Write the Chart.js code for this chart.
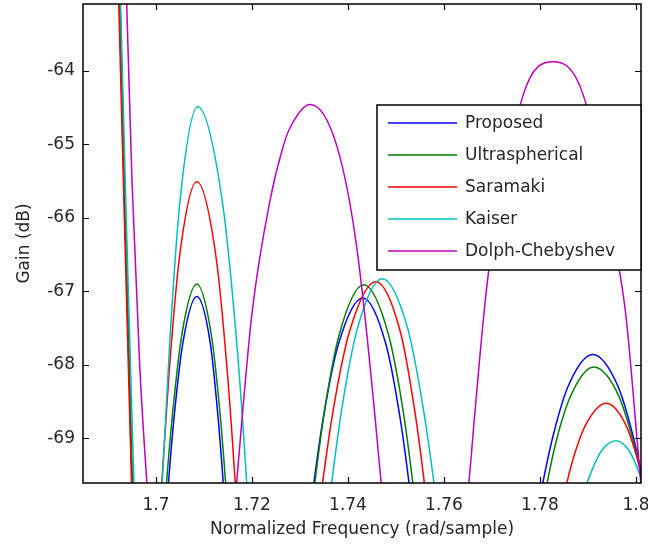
<!DOCTYPE html>
<html>
<head>
<meta charset="utf-8">
<script src="https://cdn.jsdelivr.net/npm/chart.js@4.4.1/dist/chart.umd.min.js"></script>
<style>
  html, body { margin: 0; padding: 0; background: #fff; }
  #wrap { width: 648px; height: 550px; position: relative; }
</style>
</head>
<body>
<div id="wrap"><canvas id="grafico"></canvas></div>
<script>
// --------------------------------------------------------------- dados
// Cada curva: pares [frequência, ganho dB].
// null separa os lóbulos; pontos abaixo de -69.6 / acima de -63.1 são cortados.
const proposed = [
  [1.6921, -62.0], [1.6936, -66.0], [1.6950, -69.6], [1.6954, -70.5], [1.698, null],
  [1.7017, -70.42], [1.7026, -69.6], [1.7038, -68.69], [1.7056, -67.70], [1.7085, -67.07], [1.7113, -67.70], [1.7129, -68.69], [1.7140, -69.6], [1.7148, -70.42], [1.72, null],
  [1.7314, -70.41], [1.7329, -69.6], [1.7349, -68.70], [1.7380, -67.72], [1.7431, -67.09], [1.7479, -67.72], [1.7508, -68.70], [1.7527, -69.6], [1.7541, -70.41], [1.76, null],
  [1.7790, -70.16], [1.7806, -69.6], [1.7827, -68.97], [1.7858, -68.30], [1.7910, -67.86], [1.7963, -68.30], [1.7994, -68.97], [1.8015, -69.6], [1.8031, -70.16],
];
const ultraspherical = [
  [1.6921, -62.0], [1.6936, -66.0], [1.6951, -69.6], [1.6955, -70.5], [1.698, null],
  [1.7013, -70.47], [1.7022, -69.6], [1.7035, -68.63], [1.7054, -67.58], [1.7085, -66.90], [1.7115, -67.58], [1.7133, -68.63], [1.7145, -69.6], [1.7154, -70.47], [1.72, null],
  [1.7316, -70.47], [1.7331, -69.6], [1.7351, -68.63], [1.7382, -67.58], [1.7433, -66.91], [1.7484, -67.58], [1.7515, -68.63], [1.7535, -69.6], [1.7550, -70.47], [1.76, null],
  [1.7801, -70.11], [1.7815, -69.6], [1.7834, -69.03], [1.7864, -68.42], [1.7912, -68.03], [1.7964, -68.42], [1.7994, -69.03], [1.8015, -69.6], [1.8031, -70.11],
];
const saramaki = [
  [1.6918, -62.0], [1.6934, -66.0], [1.6949, -69.6], [1.6953, -70.5], [1.698, null],
  [1.7001, -70.92], [1.7012, -69.6], [1.7027, -68.13], [1.7049, -66.53], [1.7085, -65.51], [1.7125, -66.53], [1.7149, -68.13], [1.7165, -69.6], [1.7177, -70.92], [1.725, null],
  [1.7330, -70.48], [1.7347, -69.6], [1.7369, -68.62], [1.7403, -67.55], [1.7458, -66.87], [1.7509, -67.55], [1.7539, -68.62], [1.7559, -69.6], [1.7574, -70.48], [1.77, null],
  [1.7844, -69.95], [1.7856, -69.6], [1.7872, -69.21], [1.7897, -68.79], [1.7938, -68.52], [1.7977, -68.79], [1.8000, -69.21], [1.8015, -69.6], [1.8027, -69.95],
];
const kaiser = [
  [1.6922, -62.0], [1.6938, -66.0], [1.6954, -69.6], [1.6958, -70.5], [1.698, null],
  [1.7002, -71.25], [1.7013, -69.6], [1.7028, -67.76], [1.7050, -65.77], [1.7087, -64.49], [1.7138, -65.77], [1.7169, -67.76], [1.7189, -69.6], [1.7204, -71.25], [1.728, null],
  [1.7350, -70.49], [1.7366, -69.6], [1.7387, -68.60], [1.7419, -67.52], [1.7471, -66.83], [1.7525, -67.52], [1.7557, -68.60], [1.7579, -69.6], [1.7595, -70.49], [1.77, null],
  [1.7889, -69.78], [1.7898, -69.6], [1.7928, -69.17], [1.7958, -69.03], [1.7986, -69.17], [1.8014, -69.6], [1.8022, -69.78],
];
const dolph = [
  [1.6928, -61.0], [1.6939, -63.1], [1.6950, -65.5], [1.6966, -68.0], [1.6981, -69.6], [1.6990, -70.4], [1.705, null],
  [1.7158, -70.4], [1.7168, -69.6], [1.7200, -67.3], [1.7238, -65.75], [1.7265, -65.03], [1.7279, -64.78], [1.7321, -64.46], [1.7377, -65.03], [1.7419, -66.44], [1.7469, -69.6], [1.7479, -70.4], [1.755, null],
  [1.7642, -70.4], [1.7652, -69.6], [1.7692, -66.78], [1.7765, -64.33], [1.7827, -63.88], [1.7890, -64.33], [1.7967, -66.78], [1.7980, -67.39], [1.8010, -69.6], [1.8020, -70.3],
];

const nomes = ["Proposed", "Ultraspherical", "Saramaki", "Kaiser", "Dolph-Chebyshev"];
const cores = ["#0000FF", "#008000", "#FF0000", "#00BFBF", "#BF00BF"];

const ticksX = [1.7, 1.72, 1.74, 1.76, 1.78, 1.8];
const rotulosX = ["1.7", "1.72", "1.74", "1.76", "1.78", "1.8"];
const ticksY = [-69, -68, -67, -66, -65, -64];
const rotulosY = ["-69", "-68", "-67", "-66", "-65", "-64"];

// --------------------------------------------------------------- estilo
const FONTE = '"DejaVu Sans", Arial, sans-serif';
const COR_TEXTO = "#262626";

// sem folga automática para rótulos nas bordas: a área do gráfico fica fixa
function semFolga(s) {
  s.paddingTop = 0; s.paddingBottom = 0; s.paddingLeft = 0; s.paddingRight = 0;
}

// moldura estilo MATLAB (caixa + ticks para dentro) e legenda com borda
const molduraPlugin = {
  id: "moldura",
  afterDatasetsDraw(chart) {
    const { ctx, chartArea: a, scales: { x, y } } = chart;
    ctx.save();
    ctx.strokeStyle = "#000";
    ctx.lineWidth = 1.5;
    ctx.strokeRect(a.left, a.top, a.right - a.left, a.bottom - a.top);

    ctx.lineWidth = 1.2;
    const tam = 6;
    ctx.beginPath();
    ticksX.forEach((v) => {
      const px = Math.round(x.getPixelForValue(v)) + 0.5;
      ctx.moveTo(px, a.bottom); ctx.lineTo(px, a.bottom - tam);
      ctx.moveTo(px, a.top); ctx.lineTo(px, a.top + tam);
    });
    ticksY.forEach((v) => {
      const py = Math.round(y.getPixelForValue(v)) + 0.5;
      ctx.moveTo(a.left, py); ctx.lineTo(a.left + tam, py);
      ctx.moveTo(a.right, py); ctx.lineTo(a.right - tam, py);
    });
    ctx.stroke();

    // legenda
    const box = { x: 377, y: 105, w: 264, h: 165 };
    ctx.fillStyle = "#fff";
    ctx.fillRect(box.x, box.y, box.w, box.h);
    ctx.lineWidth = 1.5;
    ctx.strokeStyle = "#000";
    ctx.strokeRect(box.x, box.y, box.w, box.h);
    ctx.font = `17px ${FONTE}`;
    ctx.textBaseline = "middle";
    ctx.textAlign = "left";
    chart.data.datasets.forEach((ds, i) => {
      const ly = 123 + i * 32;
      ctx.strokeStyle = ds.borderColor;
      ctx.lineWidth = 1.5;
      ctx.beginPath();
      ctx.moveTo(388, ly); ctx.lineTo(457, ly);
      ctx.stroke();
      ctx.fillStyle = COR_TEXTO;
      ctx.fillText(ds.label, 465, ly + 1);
    });
    ctx.restore();
  },
};

const series = [proposed, ultraspherical, saramaki, kaiser, dolph];

new Chart(document.getElementById("grafico"), {
  type: "line",
  data: {
    datasets: series.map((pts, i) => ({
      label: nomes[i],
      data: pts.map(([fx, gy]) => ({ x: fx, y: gy })),
      borderColor: cores[i],
      borderWidth: 1.5,
      pointRadius: 0,
      cubicInterpolationMode: "monotone",
      spanGaps: false,
      clip: 0,
      order: series.length - i,
    })),
  },
  options: {
    responsive: true,
    maintainAspectRatio: false,
    animation: false,
    devicePixelRatio: 1,
    layout: { padding: { top: 4, right: 7, left: 0, bottom: 0 } },
    plugins: { legend: { display: false }, tooltip: { enabled: false } },
    scales: {
      x: {
        type: "linear",
        min: 1.684792,
        max: 1.801042,
        afterBuildTicks: (s) => { s.ticks = ticksX.map((v) => ({ value: v })); },
        afterFit: (s) => { s.height = 67; semFolga(s); },
        grid: { display: false, drawTicks: false },
        border: { display: false },
        ticks: {
          autoSkip: false, maxRotation: 0, padding: 12,
          color: COR_TEXTO, font: { family: FONTE, size: 17 },
          callback: (v, i) => rotulosX[i],
        },
        title: {
          display: true, text: "Normalized Frequency (rad/sample)",
          color: COR_TEXTO, font: { family: FONTE, size: 17 },
          padding: { top: 0, bottom: 10 },
        },
      },
      y: {
        type: "linear",
        min: -69.605,
        max: -63.095,
        afterBuildTicks: (s) => { s.ticks = ticksY.map((v) => ({ value: v })); },
        afterFit: (s) => { s.width = 83; semFolga(s); },
        grid: { display: false, drawTicks: false },
        border: { display: false },
        ticks: {
          padding: 8,
          color: COR_TEXTO, font: { family: FONTE, size: 17 },
          callback: (v, i) => rotulosY[i],
        },
        title: {
          display: true, text: "Gain (dB)",
          color: COR_TEXTO, font: { family: FONTE, size: 17 },
          padding: { top: 14, bottom: 0 },
        },
      },
    },
  },
  plugins: [molduraPlugin],
});
</script>
</body>
</html>
